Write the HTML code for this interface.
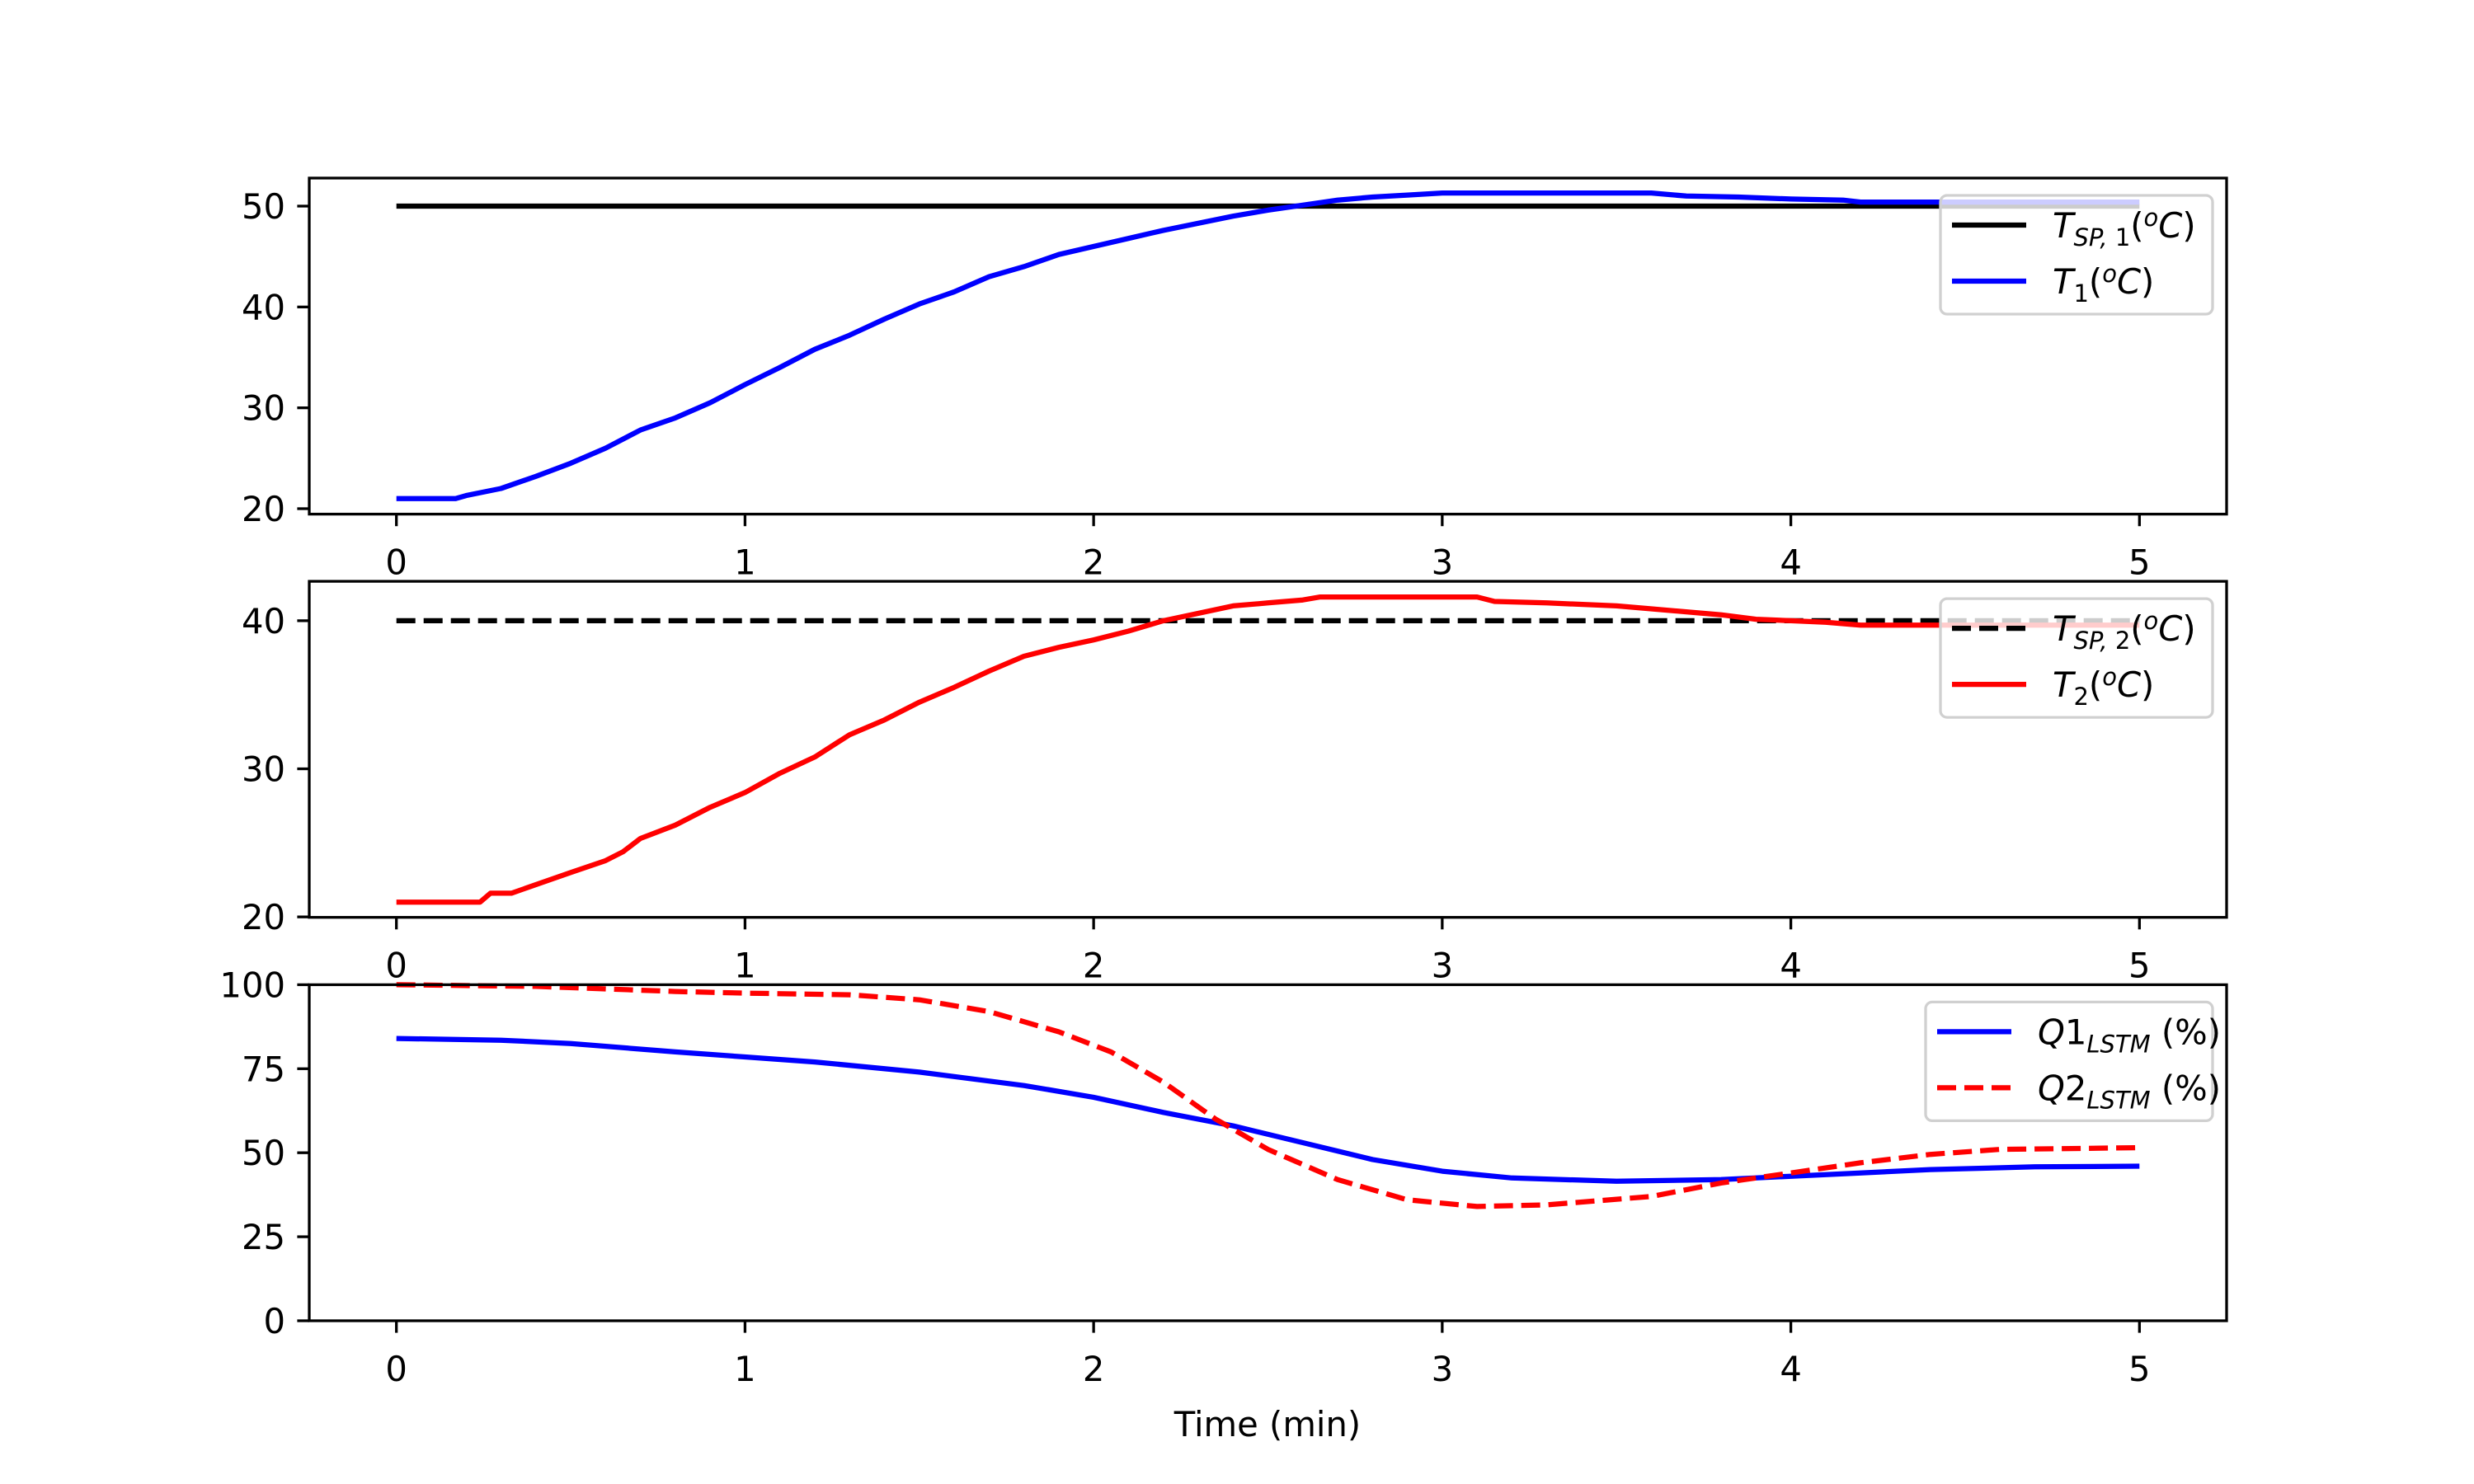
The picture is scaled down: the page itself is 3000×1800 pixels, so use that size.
<!DOCTYPE html>
<html><head><meta charset="utf-8"><style>
html,body{margin:0;padding:0;background:#fff}
svg{display:block;font-family:"DejaVu Sans","Liberation Sans",sans-serif}
</style></head><body>
<svg id="chart" width="3000" height="1800" viewBox="0 0 3000 1800" xmlns="http://www.w3.org/2000/svg">
<rect width="3000" height="1800" fill="#fff"/>
<text x="1537" y="1742" font-size="41.7" text-anchor="middle">Time (min)</text>
</svg>
<script>
const t1Times=[0,0.17,0.2,0.3,0.4,0.5,0.6,0.7,0.8,0.9,1.0,1.1,1.2,1.3,1.4,1.5,1.6,1.7,1.8,1.9,2.0,2.1,2.2,2.3,2.4,2.5,2.6,2.7,2.8,2.9,3.0,3.6,3.7,3.85,4.0,4.15,4.2,5.0];
const t1Vals=[21,21,21.3,22,23.2,24.5,26,27.8,29,30.5,32.3,34,35.8,37.2,38.8,40.3,41.5,43,44,45.2,46,46.8,47.6,48.3,49,49.6,50.1,50.6,50.9,51.1,51.3,51.3,51.0,50.9,50.7,50.6,50.4,50.4];
const sp1Times=[0,5];
const sp1Vals=[50,50];
const t2Times=[0,0.24,0.27,0.33,0.5,0.6,0.65,0.7,0.8,0.9,1.0,1.1,1.2,1.3,1.4,1.5,1.6,1.7,1.8,1.9,2.0,2.1,2.2,2.3,2.4,2.5,2.6,2.65,3.1,3.15,3.3,3.5,3.6,3.7,3.8,3.9,4.0,4.1,4.2,5.0];
const t2Vals=[21,21,21.6,21.6,23,23.8,24.4,25.3,26.2,27.4,28.4,29.7,30.8,32.3,33.3,34.5,35.5,36.6,37.6,38.2,38.7,39.3,40.0,40.5,41,41.2,41.4,41.6,41.6,41.3,41.2,41.0,40.8,40.6,40.4,40.1,40.0,39.9,39.7,39.7];
const sp2Times=[0,5];
const sp2Vals=[40,40];
const q1Times=[0,0.3,0.5,0.8,1.0,1.2,1.5,1.8,2.0,2.2,2.4,2.6,2.8,3.0,3.2,3.5,3.8,4.0,4.2,4.4,4.7,5.0];
const q1Vals=[84,83.5,82.5,80,78.5,77,74,70,66.5,62,58,53,48,44.5,42.5,41.5,42,43,44,45,45.8,46];
const q2Times=[0,0.4,0.8,1.0,1.3,1.5,1.7,1.9,2.05,2.2,2.35,2.5,2.7,2.9,3.1,3.3,3.6,3.8,4.0,4.2,4.4,4.6,5.0];
const q2Vals=[100,99.5,98,97.5,97,95.5,92,86,80,71,60,51,42,36,34,34.5,37,41,44,47,49.5,51,51.5];
const xTicks=[0,1,2,3,4,5];
const y1Ticks=[20,30,40,50];
const y2Ticks=[20,30,40];
const y3Ticks=[0,25,50,75,100];

const NS="http://www.w3.org/2000/svg";
const svg=document.getElementById('chart');
function mk(tag,attrs,parent){const e=document.createElementNS(NS,tag);for(const k in attrs)e.setAttribute(k,attrs[k]);(parent||svg).appendChild(e);return e;}
const L=375,R=2700;
const xMin=-0.25,xMax=5.25;
function xs(v){return L+(v-xMin)/(xMax-xMin)*(R-L);}

function panel(name,top,bot,yMin,yMax,yTicks,series,legend){
  const g=mk('g',{});
  
  
  const ys=v=>bot-(v-yMin)/(yMax-yMin)*(bot-top);
  series.forEach(s=>{
    const d=s.t.map((t,i)=>(i?'L':'M')+xs(t).toFixed(1)+' '+ys(s.v[i]).toFixed(1)).join(' ');
    const p=mk('path',{d:d,fill:'none',stroke:s.c,'stroke-width':6.25,'stroke-dasharray':s.dash||'none','stroke-linejoin':'round'},g);
    
    
  });
  yTicks.forEach(v=>{
    const y=ys(v);
    mk('line',{x1:L-14.6,x2:L,y1:y,y2:y,stroke:'#000','stroke-width':3.3},g);
    const t=mk('text',{x:L-29,y:y+15,'font-size':41.7,'text-anchor':'end'},g);
    t.textContent=v;
    
    
  });
  xTicks.forEach(v=>{
    const x=xs(v);
    mk('line',{x1:x,x2:x,y1:bot,y2:bot+14.6,stroke:'#000','stroke-width':3.3},g);
    const t=mk('text',{x:x,y:bot+73,'font-size':41.7,'text-anchor':'middle'},g);
    t.textContent=v;
    
    
  });
  const fr=mk('rect',{x:L,y:top,width:R-L,height:bot-top,fill:'none',stroke:'#000','stroke-width':3.3},g);
  
  
  // legend
  const lg=mk('g',{},g);
  
  
  const lx=legend.x, ly=top+21;
  mk('rect',{x:lx,y:ly,width:R-17-lx,height:144,rx:8,fill:'#fff','fill-opacity':0.8,stroke:'#d0d0d0','stroke-width':3.3},lg);
  legend.items.forEach((it,i)=>{
    const yy=ly+36+i*68;
    mk('line',{x1:lx+14,x2:lx+104,y1:yy,y2:yy,stroke:it.c,'stroke-width':6.25,'stroke-dasharray':it.dash||'none'},lg);
    const t=mk('text',{x:lx+136,y:yy+15,'font-size':41.7},lg);
    
    
    t.innerHTML=it.html;
  });
}
panel('panel-t1',216,623.6,19.46,52.78,y1Ticks,[
  {t:sp1Times,v:sp1Vals,c:'#000',name:'line-tsp1'},
  {t:t1Times,v:t1Vals,c:'#0000ff',name:'line-t1'}],
  {x:2353,items:[
    {c:'#000',html:'<tspan font-style="italic">T</tspan><tspan font-style="italic" font-size="29" dy="10">SP, </tspan><tspan font-size="29">1</tspan><tspan dy="-10">(</tspan><tspan font-style="italic" font-size="29" dy="-14">o</tspan><tspan font-style="italic" dy="14">C</tspan>)'},
    {c:'#0000ff',html:'<tspan font-style="italic">T</tspan><tspan font-size="29" dy="10">1</tspan><tspan dy="-10">(</tspan><tspan font-style="italic" font-size="29" dy="-14">o</tspan><tspan font-style="italic" dy="14">C</tspan>)'}]});
panel('panel-t2',705.1,1112.7,19.97,42.66,y2Ticks,[
  {t:sp2Times,v:sp2Vals,c:'#000',dash:'23 10',name:'line-tsp2'},
  {t:t2Times,v:t2Vals,c:'#ff0000',name:'line-t2'}],
  {x:2353,items:[
    {c:'#000',dash:'23 10',html:'<tspan font-style="italic">T</tspan><tspan font-style="italic" font-size="29" dy="10">SP, </tspan><tspan font-size="29">2</tspan><tspan dy="-10">(</tspan><tspan font-style="italic" font-size="29" dy="-14">o</tspan><tspan font-style="italic" dy="14">C</tspan>)'},
    {c:'#ff0000',html:'<tspan font-style="italic">T</tspan><tspan font-size="29" dy="10">2</tspan><tspan dy="-10">(</tspan><tspan font-style="italic" font-size="29" dy="-14">o</tspan><tspan font-style="italic" dy="14">C</tspan>)'}]});
panel('panel-q',1194.4,1602,0,100,y3Ticks,[
  {t:q1Times,v:q1Vals,c:'#0000ff',name:'line-q1'},
  {t:q2Times,v:q2Vals,c:'#ff0000',dash:'23 10',name:'line-q2'}],
  {x:2335,items:[
    {c:'#0000ff',html:'<tspan font-style="italic">Q</tspan>1<tspan font-style="italic" font-size="29" dy="10">LSTM</tspan><tspan dy="-10"> (%)</tspan>'},
    {c:'#ff0000',dash:'23 10',html:'<tspan font-style="italic">Q</tspan>2<tspan font-style="italic" font-size="29" dy="10">LSTM</tspan><tspan dy="-10"> (%)</tspan>'}]});
</script>
</body></html>
